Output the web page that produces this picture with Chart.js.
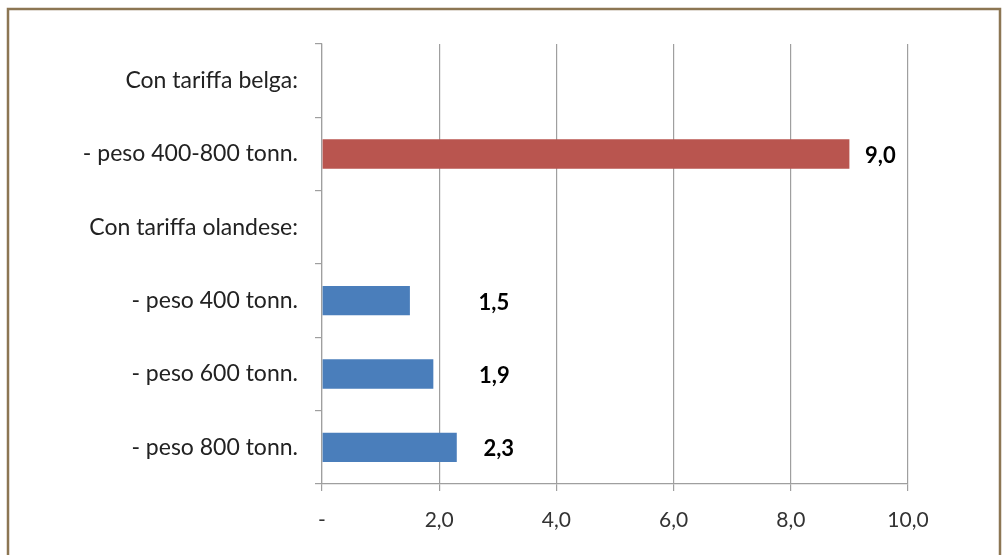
<!DOCTYPE html>
<html>
<head>
<meta charset="utf-8">
<script src="https://cdn.jsdelivr.net/npm/chart.js@4/dist/chart.umd.min.js"></script>
<style>
  html, body { margin: 0; padding: 0; background: #ffffff; }
  #wrap { width: 1003px; height: 555px; position: relative; }
  canvas { display: block; }
</style>
</head>
<body>
<div id="wrap"><canvas id="c" width="1003" height="555"></canvas></div>
<script>
// Categories (top to bottom) and the cost values for each
const categories = [
  'Con tariffa belga:',
  '- peso 400-800 tonn.',
  'Con tariffa olandese:',
  '- peso 400 tonn.',
  '- peso 600 tonn.',
  '- peso 800 tonn.'
];
const values = [null, 9.0, null, 1.5, 1.9, 2.3];
const xTicks = [0, 2, 4, 6, 8, 10];

// Bar fill per row: Belgian tariff in red, Dutch tariff in blue
const barColors = ['#b9554f', '#b9554f', '#4a7ebb', '#4a7ebb', '#4a7ebb', '#4a7ebb'];
// Horizontal gap between each bar end and its value label (px)
const labelGap = [0, 31, 0, 84, 61, 42];

const fmt = v => v === 0 ? '-' : v.toFixed(1).replace('.', ',');
const FONT = 'Lato, "Open Sans", sans-serif';

// Outer frame around the chart
const framePlugin = {
  id: 'frame',
  beforeDraw(chart) {
    const ctx = chart.ctx;
    ctx.save();
    ctx.fillStyle = '#ffffff';
    ctx.fillRect(0, 0, chart.width, chart.height);
    ctx.strokeStyle = '#8c7653';
    ctx.lineWidth = 2.5;
    ctx.beginPath();
    ctx.moveTo(8, 600);
    ctx.lineTo(8, 9);
    ctx.lineTo(1000, 9);
    ctx.lineTo(1000, 600);
    ctx.stroke();
    ctx.restore();
  }
};

// Bold value labels to the right of each bar
const valueLabels = {
  id: 'valueLabels',
  afterDatasetsDraw(chart) {
    const ctx = chart.ctx;
    const meta = chart.getDatasetMeta(0);
    ctx.save();
    ctx.font = 'bold 22px ' + FONT;
    ctx.fillStyle = '#000000';
    ctx.textAlign = 'center';
    ctx.textBaseline = 'middle';
    meta.data.forEach((bar, i) => {
      const v = values[i];
      if (v === null) return;
      ctx.fillText(fmt(v), bar.x + labelGap[i], bar.y + 2);
    });
    ctx.restore();
  }
};

new Chart(document.getElementById('c'), {
  type: 'bar',
  data: {
    labels: categories,
    datasets: [{
      data: values,
      backgroundColor: barColors,
      borderWidth: 0,
      barPercentage: 0.4,
      categoryPercentage: 1.0
    }]
  },
  options: {
    indexAxis: 'y',
    responsive: false,
    animation: false,
    devicePixelRatio: 1,
    layout: { padding: { top: 44, right: 95, bottom: 0, left: 0 } },
    plugins: { legend: { display: false }, tooltip: { enabled: false } },
    scales: {
      x: {
        min: 0, max: 10,
        afterBuildTicks(scale) { scale.ticks = xTicks.map(v => ({ value: v })); },
        afterFit(scale) { scale.height = 71; },
        grid: { color: '#9f9f9f', lineWidth: 1.2, tickLength: 7, drawTicks: true },
        border: { color: '#9f9f9f', width: 1.2 },
        ticks: {
          callback: v => fmt(v),
          color: '#333333',
          padding: 17,
          maxRotation: 0,
          font: { family: FONT, size: 21 }
        }
      },
      y: {
        afterFit(scale) { scale.width = 322; },
        grid: { drawOnChartArea: false, color: '#9f9f9f', lineWidth: 1.2, tickLength: 7, offset: true },
        border: { color: '#9f9f9f', width: 1.2 },
        ticks: {
          color: '#222222',
          padding: 17,
          font: { family: FONT, size: 23 }
        }
      }
    }
  },
  plugins: [framePlugin, valueLabels]
});
</script>
</body>
</html>
